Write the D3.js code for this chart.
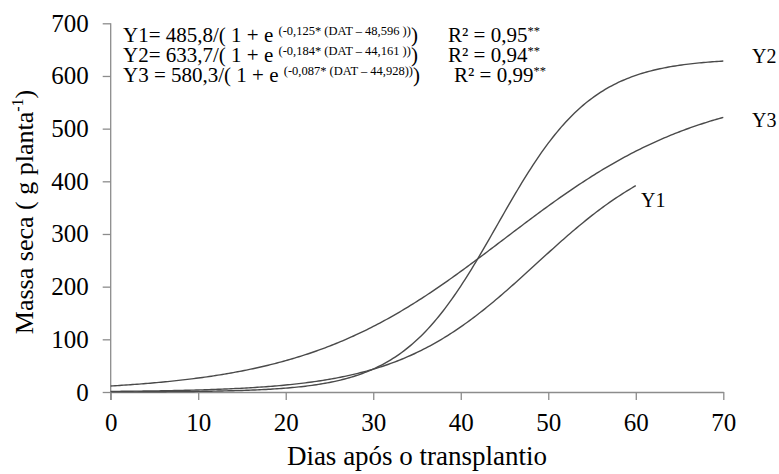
<!DOCTYPE html>
<html>
<head>
<meta charset="utf-8">
<script src="https://cdn.jsdelivr.net/npm/d3@7"></script>
</head>
<body style="margin:0">
<svg id="chart" width="779" height="474"></svg>
<script>
// Logistic fits: Y = A / (1 + e^(k * (DAT - x0)))
const seriesNames = ["Y1", "Y2", "Y3"];
const asymptote   = [485.8, 633.7, 580.3];
const rateK       = [-0.125, -0.184, -0.087];
const midpointX0  = [48.596, 44.161, 44.928];
const lastDay     = [60, 70, 70];
const rSquared    = ["0,95", "0,94", "0,99"];

const xTicks = [0, 10, 20, 30, 40, 50, 60, 70];
const yTicks = [0, 100, 200, 300, 400, 500, 600, 700];

const font = px => `font-family:'Liberation Serif';font-size:${px}px`;
const svg = d3.select("#chart");
const x = d3.scaleLinear().domain([0, 70]).range([110.7, 723.3]);
const y = d3.scaleLinear().domain([0, 700]).range([392, 23.3]);

const axisColor = "#8c8c8c";

// Y axis
const gy = svg.append("g").attr("transform", `translate(${x(0)},0)`)
  .call(d3.axisLeft(y).tickValues(yTicks).tickSize(8).tickSizeOuter(0).tickPadding(14));
gy.select(".domain").attr("stroke", axisColor).attr("stroke-width", 1.3)
  .attr("d", `M0,${y(700)}V${y(0) + 8}`);
gy.selectAll(".tick line").attr("stroke", axisColor).attr("stroke-width", 1.3);
gy.selectAll(".tick text").attr("style", font(25)).attr("fill", "#000");

// X axis
const gx = svg.append("g").attr("transform", `translate(0,${y(0)})`)
  .call(d3.axisBottom(x).tickValues(xTicks).tickSize(8).tickSizeOuter(0).tickPadding(13));
gx.select(".domain").attr("stroke", axisColor).attr("stroke-width", 1.3);
gx.selectAll(".tick line").attr("stroke", axisColor).attr("stroke-width", 1.3);
gx.selectAll(".tick text").attr("style", font(25)).attr("fill", "#000");

// Axis titles
svg.append("text")
  .attr("x", 417).attr("y", 465)
  .attr("text-anchor", "middle")
  .attr("style", font(27))
  .text("Dias após o transplantio");

const yTitle = svg.append("text")
  .attr("transform", "translate(33,212) rotate(-90)")
  .attr("text-anchor", "middle")
  .attr("style", font(26));
yTitle.append("tspan").text("Massa seca ( g planta");
yTitle.append("tspan").attr("dy", -10).attr("style", font(16)).text("-1");
yTitle.append("tspan").attr("dy", 10).text(")");

// Fitted curves
const logistic = i => t => asymptote[i] / (1 + Math.exp(rateK[i] * (t - midpointX0[i])));
const line = d3.line().x(d => x(d[0])).y(d => y(d[1]));

seriesNames.forEach((name, i) => {
  const f = logistic(i);
  const pts = d3.range(0, lastDay[i] + 0.001, 0.25).map(t => [t, f(t)]);
  svg.append("path")
    .datum(pts)
    .attr("d", line)
    .attr("fill", "none")
    .attr("stroke", "#4a4a4a")
    .attr("stroke-width", 1.4);
});

// End labels
const endLabelPos = [[641, 207], [752, 63], [752, 127]];
seriesNames.forEach((name, i) => {
  svg.append("text")
    .attr("x", endLabelPos[i][0]).attr("y", endLabelPos[i][1])
    .attr("style", font(20))
    .text(name);
});

// Equations
const fmt = v => String(v).replace(".", ",");
const eqRows = [42, 62, 82];
const r2X = [448, 448, 454];
seriesNames.forEach((name, i) => {
  const t = svg.append("text").attr("x", 123).attr("y", eqRows[i]).attr("style", font(21));
  const lhs = i === 2 ? `${name} = ` : `${name}= `;
  t.append("tspan").text(`${lhs}${asymptote[i].toFixed(1).replace(".", ",")}/( 1 + e `);
  const close = i === 2 ? "))" : " ))";
  t.append("tspan").attr("dy", -7).attr("style", font(12.5))
    .text(`(${fmt(rateK[i])}* (DAT – ${midpointX0[i].toFixed(3).replace(".", ",")}${close}`);
  t.append("tspan").attr("dy", 7).text(")");

  const r = svg.append("text").attr("x", r2X[i]).attr("y", eqRows[i]).attr("style", font(21));
  r.append("tspan").text(`R² = ${rSquared[i]}`);
  r.append("tspan").attr("dy", -7).attr("style", font(12.5)).text("**");
});
</script>
</body>
</html>
